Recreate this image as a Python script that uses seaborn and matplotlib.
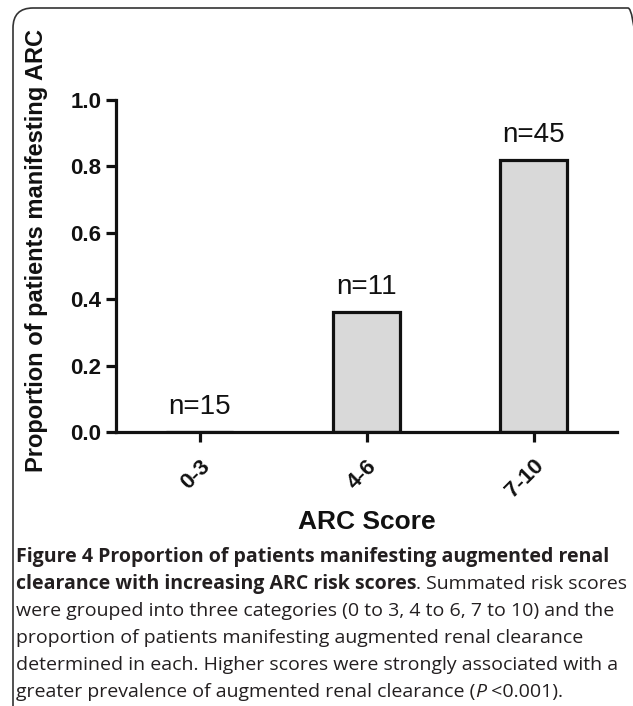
import matplotlib
matplotlib.use('Agg')
import matplotlib.pyplot as plt
import matplotlib.patches as mpatches
import matplotlib.transforms as mtransforms
import pandas as pd
import seaborn as sns

# data
categories = ['0-3', '4-6', '7-10']
proportions = [0.0, 0.36, 0.82]
n_labels = ['n=15', 'n=11', 'n=45']
y_ticks = [0.0, 0.2, 0.4, 0.6, 0.8, 1.0]

caption_lines = [
    [('Figure 4 Proportion of patients manifesting augmented renal', 'bold')],
    [('clearance with increasing ARC risk scores', 'bold'), ('. Summated risk scores', 'normal')],
    [('were grouped into three categories (0 to 3, 4 to 6, 7 to 10) and the', 'normal')],
    [('proportion of patients manifesting augmented renal clearance', 'normal')],
    [('determined in each. Higher scores were strongly associated with a', 'normal')],
    [('greater prevalence of augmented renal clearance (', 'normal'), ('P', 'italic'), (' <0.001).', 'normal')],
]

sns.set_style('ticks')
plt.rcParams['font.family'] = ['Liberation Sans', 'DejaVu Sans']

W, H, DPI = 633, 706, 100
fig = plt.figure(figsize=(W / DPI, H / DPI), dpi=DPI)
ax = fig.add_axes([116 / W, 1 - 432 / H, (617 - 116) / W, (432 - 100) / H])

df = pd.DataFrame({'score': categories, 'prop': proportions})
sns.barplot(data=df, x='score', y='prop', color='#d9d9d9', saturation=1,
            edgecolor='#111111', linewidth=2.3, width=0.4, ax=ax)

for i, (v, lab) in enumerate(zip(proportions, n_labels)):
    ax.annotate(lab, (i, v), xytext=(0, 13), textcoords='offset points',
                ha='center', va='baseline', fontsize=20, color='#111111')

ax.set_xlim(-0.5, 2.5)
ax.set_ylim(0, 1.0)
ax.set_yticks(y_ticks)
ax.set_yticklabels([f'{t:.1f}' for t in y_ticks], fontweight='bold', fontsize=16)
ax.set_xticks(range(len(categories)))
ax.set_xticklabels(categories, fontweight='bold', fontsize=16, rotation=45,
                   ha='right', rotation_mode='anchor')
sns.despine(ax=ax)
for s in ['left', 'bottom']:
    ax.spines[s].set_linewidth(2.3)
    ax.spines[s].set_color('#111111')
ax.tick_params(axis='both', width=2.3, length=7, color='#111111', labelcolor='#111111')
ax.tick_params(axis='x', pad=10)
ax.set_xlabel('ARC Score', fontweight='bold', fontsize=19, color='#111111', labelpad=6)
ax.set_ylabel('Proportion of patients manifesting ARC', fontweight='bold', fontsize=17,
              color='#111111')
ax.yaxis.set_label_coords(-0.136, 0.548)

# rounded frame around the figure panel
frame = mpatches.FancyBboxPatch((13, -60), 648 - 13, 698 + 60,
                                boxstyle='round,pad=0,rounding_size=20',
                                transform=mtransforms.IdentityTransform(),
                                fill=False, edgecolor='#333333', linewidth=1.2)
fig.patches.append(frame)

# caption, one line at a time, mixing weights
renderer = fig.canvas.get_renderer()
y0 = 1 - 562 / H
step = 27 / H
for k, parts in enumerate(caption_lines):
    x = 16 / W
    for txt, style in parts:
        kw = dict(fontsize=14, color='#231f20', va='baseline', ha='left',
                  family=['Open Sans', 'DejaVu Sans'])
        if style == 'bold':
            kw['fontweight'] = 'bold'
        elif style == 'italic':
            kw['fontstyle'] = 'italic'
        t = fig.text(x, y0 - k * step, txt, **kw)
        bb = t.get_window_extent(renderer)
        x = bb.x1 / W

fig.savefig('out.png', dpi=DPI)
